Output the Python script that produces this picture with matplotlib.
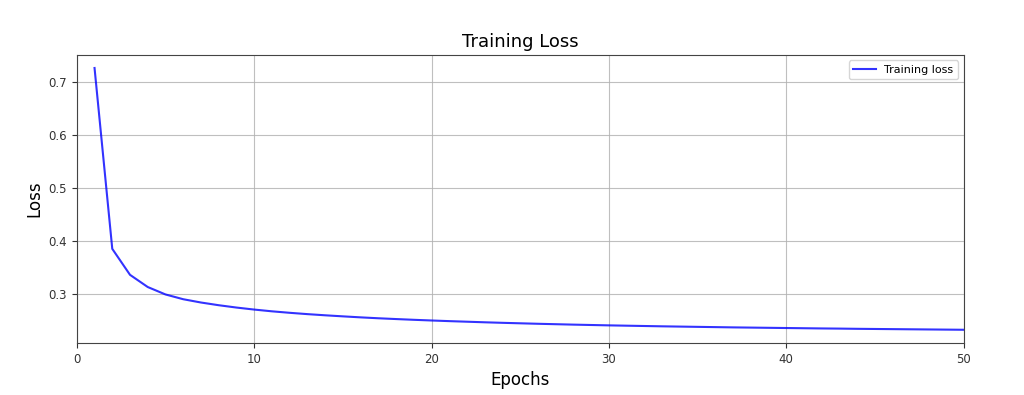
import numpy as np
import matplotlib
matplotlib.use("Agg")
import matplotlib.pyplot as plt

## Data
epochs = list(range(1, 51))
train_loss = [0.7260, 0.3850, 0.3360, 0.3130, 0.2990, 0.2900, 0.2838, 0.2787, 0.2743, 0.2705,
              0.2672, 0.2644, 0.2619, 0.2597, 0.2577, 0.2558, 0.2541, 0.2526, 0.2512, 0.2499,
              0.2487, 0.2476, 0.2465, 0.2455, 0.2446, 0.2437, 0.2429, 0.2421, 0.2414, 0.2407,
              0.2401, 0.2395, 0.2389, 0.2384, 0.2379, 0.2374, 0.2369, 0.2365, 0.2361, 0.2357,
              0.2353, 0.2349, 0.2346, 0.2342, 0.2339, 0.2336, 0.2333, 0.2330, 0.2327, 0.2324]

## Plot
fig = plt.figure(figsize=(10.24, 3.95), dpi=100)
ax = fig.add_axes([0.075, 0.132, 0.866, 0.729])
ax.plot(epochs, train_loss, color='blue', alpha=0.8, linewidth=1.5, label='Training loss')
ax.set_xlim(0, 50)
ax.grid(True, color='#b0b0b0', alpha=0.8)
ax.set_title('Training Loss', fontsize=13)
ax.set_xlabel('Epochs', fontsize=12)
ax.set_ylabel('Loss', fontsize=12)
ax.tick_params(labelsize=8.5, colors='#333333')
for s in ax.spines.values():
    s.set_color('#444444')
ax.legend(loc='upper right', fontsize=8)

fig.savefig('out.png', dpi=100)
